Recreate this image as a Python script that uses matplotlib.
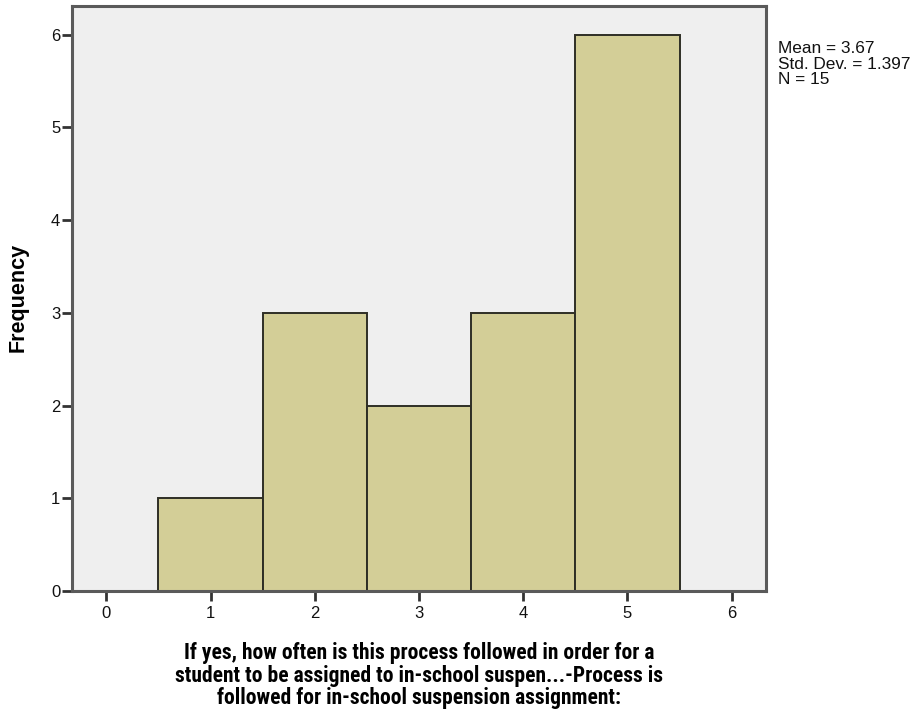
import matplotlib
matplotlib.use("Agg")
import matplotlib.pyplot as plt
from matplotlib import font_manager

bin_centers = [1, 2, 3, 4, 5]
frequencies = [1, 3, 2, 3, 6]
x_ticks = [0, 1, 2, 3, 4, 5, 6]
y_ticks = [0, 1, 2, 3, 4, 5, 6]
stats_text = "Mean = 3.67\nStd. Dev. = 1.397\nN = 15"
x_label = ("If yes, how often is this process followed in order for a\n"
           "student to be assigned to in-school suspen...-Process is\n"
           "followed for in-school suspension assignment:")
y_label = "Frequency"

plt.rcParams['font.family'] = ['Liberation Sans', 'DejaVu Sans']

fonts = font_manager.fontManager.ttflist
names = {f.name for f in fonts}
xl_kwargs = dict(family=['Liberation Sans', 'DejaVu Sans'], fontsize=13.5)
if 'Liberation Sans Narrow' in names:
    xl_kwargs = dict(family=['Liberation Sans Narrow', 'DejaVu Sans'], fontsize=16)
elif 'Roboto Condensed' in names:
    xl_kwargs = dict(family=['Roboto Condensed', 'DejaVu Sans'], fontsize=15.5)

W, H = 919, 717
fig = plt.figure(figsize=(W / 100, H / 100), dpi=100)
ax = fig.add_axes([72 / W, 1 - 591 / H, (766 - 72) / W, (591 - 6) / H])
ax.set_facecolor('#EFEFEF')
ax.bar(bin_centers, frequencies, width=1.0, color='#D3CE97',
       edgecolor='#2E2E25', linewidth=1.4, zorder=2)
ax.set_xlim(-0.33, 6.33)
ax.set_ylim(0, 6.31)
ax.set_xticks(x_ticks)
ax.set_yticks(y_ticks)
ax.tick_params(axis='both', direction='out', length=7.5, width=2,
               color='#333333', labelsize=12, labelcolor='#111111')
ax.tick_params(axis='y', pad=1)
ax.tick_params(axis='x', pad=3.5)
for s in ax.spines.values():
    s.set_color('#5a5a5a')
    s.set_linewidth(2.2)

fig.text(18.5 / W, 1 - 297 / H, y_label, rotation=90, ha='center', va='center',
         fontsize=15.5, fontweight='bold')
fig.text(419 / W, 1 - 642 / H, x_label, ha='center', va='top',
         fontweight='bold', linespacing=1.04, multialignment='center',
         **xl_kwargs)
fig.text(778 / W, 1 - 41 / H, stats_text, fontsize=12.4, va='top', ha='left',
         linespacing=1.05, color='#111111')

fig.savefig("out.png", dpi=100)
